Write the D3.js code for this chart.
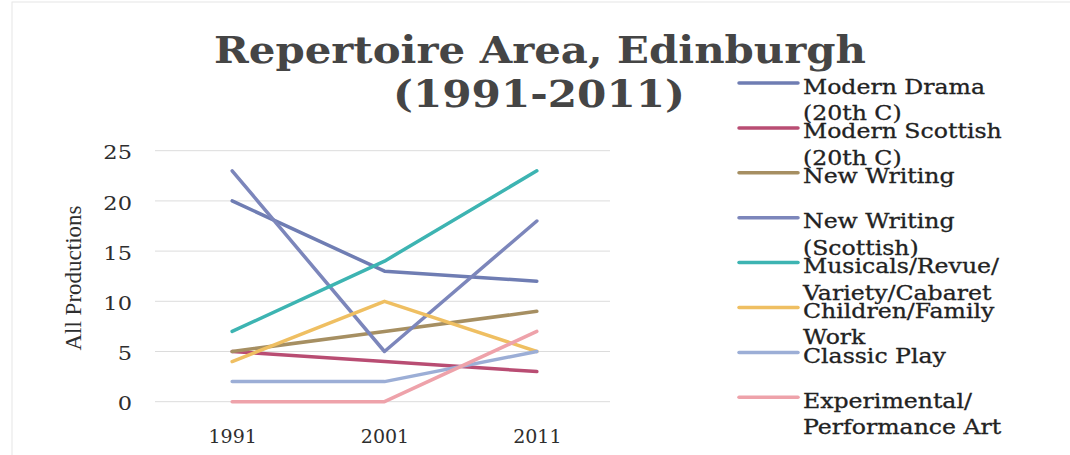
<!DOCTYPE html>
<html>
<head>
<meta charset="utf-8">
<script src="https://cdn.jsdelivr.net/npm/d3@7"></script>
<style>
  html, body { margin: 0; padding: 0; background: #fff; }
  svg { display: block; }
</style>
</head>
<body>
<div id="chart"></div>
<script>
const years = ['1991', '2001', '2011'];
const seriesNames = [
    ['Modern Drama', '(20th C)'],
    ['Modern Scottish', '(20th C)'],
    ['New Writing'],
    ['New Writing', '(Scottish)'],
    ['Musicals/Revue/', 'Variety/Cabaret'],
    ['Children/Family', 'Work'],
    ['Classic Play'],
    ['Experimental/', 'Performance Art']
];
const modernDrama = [20, 13, 12];
const modernScottish = [5, 4, 3];
const newWriting = [5, 7, 9];
const newWritingScottish = [23, 5, 18];
const musicals = [7, 14, 23];
const childrenFamily = [4, 10, 5];
const classicPlay = [2, 2, 5];
const experimental = [0, 0, 7];
const seriesColors = ['#6f7db3', '#b94d73', '#a68f62', '#7c86bb', '#3db4b2', '#efbf62', '#9caed6', '#eea2aa'];
const yTicks = [0, 5, 10, 15, 20, 25];

let allValues = [modernDrama, modernScottish, newWriting, newWritingScottish,
    musicals, childrenFamily, classicPlay, experimental];
let series = seriesNames.map((name, i) => ({
    name: name,
    color: seriesColors[i],
    values: allValues[i].map((v, j) => ({year: years[j], value: v}))
}));

const width = 1070, height = 455;

let svg = d3.select('#chart').append('svg')
    .attr('width', width)
    .attr('height', height);

// faint scan border
svg.append('rect')
    .attr('x', 12).attr('y', 2)
    .attr('width', width + 20).attr('height', height + 20)
    .attr('fill', 'none')
    .attr('stroke', '#e6e6e6')
    .attr('stroke-width', 1);

let x = d3.scalePoint()
    .domain(years)
    .range([156, 613])
    .padding(0.5);

let y = d3.scaleLinear()
    .domain([0, 25])
    .range([401.7, 150.7]);

// gridlines
svg.append('g')
    .selectAll('line')
    .data(yTicks)
  .enter().append('line')
    .attr('x1', 155)
    .attr('x2', 610)
    .attr('y1', d => y(d))
    .attr('y2', d => y(d))
    .attr('stroke', '#dcdcdc')
    .attr('stroke-width', 1);

// y axis labels
let yAxis = svg.append('g')
    .attr('transform', 'translate(132,0)')
    .call(d3.axisLeft(y).tickValues(yTicks).tickSize(0).tickPadding(0));
yAxis.select('.domain').remove();
yAxis.selectAll('text')
    .attr('font-family', 'DejaVu Serif')
    .attr('font-size', 18)
    .attr('fill', '#2e2e2e')
    .attr('dy', '0.45em')
    .attr('transform', 'scale(1.25,1)');

// x axis labels
let xAxis = svg.append('g')
    .attr('transform', 'translate(0,425)')
    .call(d3.axisBottom(x).tickSize(0).tickPadding(0));
xAxis.select('.domain').remove();
xAxis.selectAll('text')
    .attr('font-family', 'DejaVu Serif')
    .attr('font-size', 19)
    .attr('fill', '#2e2e2e')
    .attr('dy', '0.95em');

// y axis title
svg.append('text')
    .attr('transform', 'translate(81,278) rotate(-90)')
    .attr('text-anchor', 'middle')
    .attr('font-family', 'Liberation Serif')
    .attr('font-size', 23)
    .attr('fill', '#2e2e2e')
    .text('All Productions');

// lines
let line = d3.line()
    .x(d => x(d.year))
    .y(d => y(d.value));

svg.append('g')
    .selectAll('path')
    .data(series)
  .enter().append('path')
    .attr('d', d => line(d.values))
    .attr('fill', 'none')
    .attr('stroke', d => d.color)
    .attr('stroke-width', 3.5)
    .attr('stroke-linecap', 'round')
    .attr('stroke-linejoin', 'round');

// title
let title = svg.append('g')
    .attr('font-family', 'DejaVu Serif')
    .attr('font-weight', 'bold')
    .attr('fill', '#454545')
    .attr('text-anchor', 'middle');
title.append('text')
    .attr('x', 540).attr('y', 63)
    .attr('font-size', 38)
    .attr('textLength', 652)
    .attr('lengthAdjust', 'spacingAndGlyphs')
    .text('Repertoire Area, Edinburgh');
title.append('text')
    .attr('x', 539).attr('y', 107)
    .attr('font-size', 38)
    .attr('textLength', 292)
    .attr('lengthAdjust', 'spacingAndGlyphs')
    .text('(1991-2011)');

// legend
const legendTop = 83, legendStep = 44.9;
let legend = svg.append('g')
    .selectAll('g')
    .data(series)
  .enter().append('g')
    .attr('transform', (d, i) => 'translate(0,' + (legendTop + i * legendStep) + ')');

legend.append('line')
    .attr('x1', 739).attr('x2', 798)
    .attr('y1', 0).attr('y2', 0)
    .attr('stroke', d => d.color)
    .attr('stroke-width', 3.5)
    .attr('stroke-linecap', 'round');

let legendText = legend.append('g')
    .attr('transform', 'translate(803,0) scale(1.18,1)')
  .append('text')
    .attr('font-family', 'DejaVu Serif')
    .attr('font-size', 20)
    .attr('fill', '#222')
    .attr('stroke', '#222')
    .attr('stroke-width', 0.3);

legendText.selectAll('tspan')
    .data(d => d.name)
  .enter().append('tspan')
    .attr('x', 0)
    .attr('y', (d, i) => 10.5 + i * 26.5)
    .text(d => d);
</script>
</body>
</html>
